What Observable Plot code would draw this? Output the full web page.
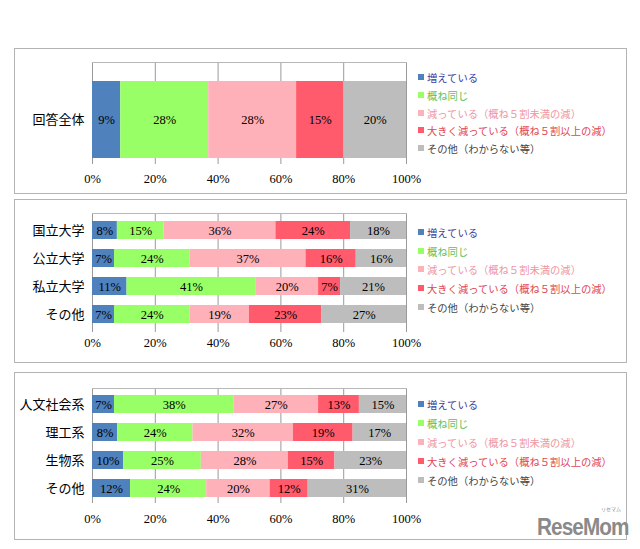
<!DOCTYPE html>
<html>
<head>
<meta charset="utf-8">
<script src="https://cdn.jsdelivr.net/npm/d3@7"></script>
<script src="https://cdn.jsdelivr.net/npm/@observablehq/plot@0.6"></script>
<style>
  html, body { margin: 0; padding: 0; background: #fff; }
  #root { position: relative; width: 640px; height: 549px; overflow: hidden; background: #fff; }
  .box { position: absolute; border: 1px solid #b4b4b4; box-sizing: border-box; }
  .plotwrap { position: absolute; }
  .legend { position: absolute; left: 418px; font-family: "Noto Sans CJK JP", sans-serif; font-size: 10.3px; }
  .lrow { position: absolute; left: 0; white-space: nowrap; display: flex; align-items: center; height: 14px; }
  .lsq { width: 6px; height: 6px; margin-right: 3px; }
  .logo { position: absolute; left: 537px; top: 519px; line-height: 17px; height: 17px; font-family: "Liberation Sans", sans-serif; font-weight: bold; font-size: 23px; color: #8a8a8a; letter-spacing: -1px; white-space: nowrap; transform: scaleX(0.9); transform-origin: left top; }
  .logosmall { position: absolute; left: 601px; top: 506px; font-size: 5px; line-height: 5px; font-family: "Noto Sans CJK JP"; color: #8a8a8a; white-space: nowrap; }
</style>
</head>
<body>
<div id="root"></div>
<script>
// Series (legend order)
const series = [
  "増えている",
  "概ね同じ",
  "減っている（概ね５割未満の減）",
  "大きく減っている（概ね５割以上の減）",
  "その他（わからない等）"
];
const barColors = ["#4f81bd", "#99ff66", "#ffb1b9", "#ff5b6c", "#bdbdbd"];
const legendTextColors = ["#3b3b9e", "#5fbf55", "#ef96a0", "#e04555", "#444444"];

// Panel 1
const cats1 = ["回答全体"];
const vals1 = [[9, 28, 28, 15, 20]];
// Panel 2
const cats2 = ["国立大学", "公立大学", "私立大学", "その他"];
const vals2 = [
  [8, 15, 36, 24, 18],
  [7, 24, 37, 16, 16],
  [11, 41, 20, 7, 21],
  [7, 24, 19, 23, 27]
];
// Panel 3
const cats3 = ["人文社会系", "理工系", "生物系", "その他"];
const vals3 = [
  [7, 38, 27, 13, 15],
  [8, 24, 32, 19, 17],
  [10, 25, 28, 15, 23],
  [12, 24, 20, 12, 31]
];
const xTicks = [0, 0.2, 0.4, 0.6, 0.8, 1];

const root = document.getElementById("root");

function toRows(cats, vals) {
  const rows = [];
  cats.forEach((c, i) => vals[i].forEach((v, j) => rows.push({cat: c, s: series[j], v})));
  return rows;
}

function makePanel(cfg) {
  const box = document.createElement("div");
  box.className = "box";
  Object.assign(box.style, {left: "14px", top: cfg.boxTop + "px", width: "613px", height: cfg.boxH + "px"});
  root.appendChild(box);

  const rows = toRows(cfg.cats, cfg.vals);
  const serif = "'Liberation Serif', 'Noto Sans CJK JP', serif";
  const chart = Plot.plot({
    width: 400,
    height: cfg.height,
    marginLeft: 77,
    marginRight: 9,
    marginTop: cfg.marginTop,
    marginBottom: cfg.height - cfg.marginTop - cfg.frameH,
    style: {fontFamily: serif, fontSize: "12px", color: "#000", background: "transparent", overflow: "visible"},
    x: {domain: [0, 1], axis: null, label: null},
    y: {domain: cfg.cats, paddingInner: cfg.pi, paddingOuter: cfg.po, align: cfg.align ?? 0.5, axis: null, label: null},
    color: {domain: series, range: barColors},
    marks: [
      Plot.gridX(xTicks, {stroke: "#9a9a9a", strokeOpacity: 1}),
      Plot.frame({anchor: "top", stroke: "#b8b8b8"}),
      Plot.barX(rows, Plot.stackX({x: "v", y: "cat", fill: "s", offset: "normalize"})),
      Plot.text(rows, Plot.stackX({x: "v", y: "cat", text: d => d.v + "%", offset: "normalize", fill: "#000", fontSize: 12.5})),
      Plot.axisX({ticks: xTicks, tickFormat: d3.format(".0%"), tickSize: 0, tickPadding: cfg.tickPad, fontSize: 12.5, fontFamily: serif, label: null}),
      Plot.axisY({tickSize: 0, tickPadding: 8, fontSize: 13, fontFamily: "'Noto Sans CJK JP', serif", textAnchor: "end", label: null})
    ]
  });
  const wrap = document.createElement("div");
  wrap.className = "plotwrap";
  Object.assign(wrap.style, {left: "15px", top: cfg.svgTop + "px"});
  wrap.appendChild(chart);
  root.appendChild(wrap);

  const leg = document.createElement("div");
  leg.className = "legend";
  leg.style.top = "0px";
  series.forEach((s, j) => {
    const r = document.createElement("div");
    r.className = "lrow";
    r.style.top = (cfg.legendY[j] - 7) + "px";
    const sq = document.createElement("span");
    sq.className = "lsq";
    sq.style.background = barColors[j];
    const t = document.createElement("span");
    t.textContent = s;
    t.style.color = legendTextColors[j];
    r.appendChild(sq);
    r.appendChild(t);
    leg.appendChild(r);
  });
  root.appendChild(leg);
}

makePanel({boxTop: 48, boxH: 146, svgTop: 49, marginTop: 13, frameH: 102, height: 141,
  cats: cats1, vals: vals1, pi: 0, po: 0.154, align: 0.75, tickPad: 10,
  legendY: [77, 95, 113, 130, 148]});
makePanel({boxTop: 199, boxH: 164, svgTop: 200, marginTop: 13, frameH: 119, height: 160,
  cats: cats2, vals: vals2, pi: 0.35, po: 0.26, tickPad: 6,
  legendY: [232, 251, 269, 288, 307]});
makePanel({boxTop: 372, boxH: 168, svgTop: 373, marginTop: 15, frameH: 115, height: 160,
  cats: cats3, vals: vals3, pi: 0.36, po: 0.163, tickPad: 11,
  legendY: [404, 423, 442, 461, 480]});

const logo = document.createElement("div");
logo.className = "logo";
logo.textContent = "ReseMom";
root.appendChild(logo);
const logoSmall = document.createElement("div");
logoSmall.className = "logosmall";
logoSmall.textContent = "リセマム";
root.appendChild(logoSmall);
</script>
</body>
</html>
